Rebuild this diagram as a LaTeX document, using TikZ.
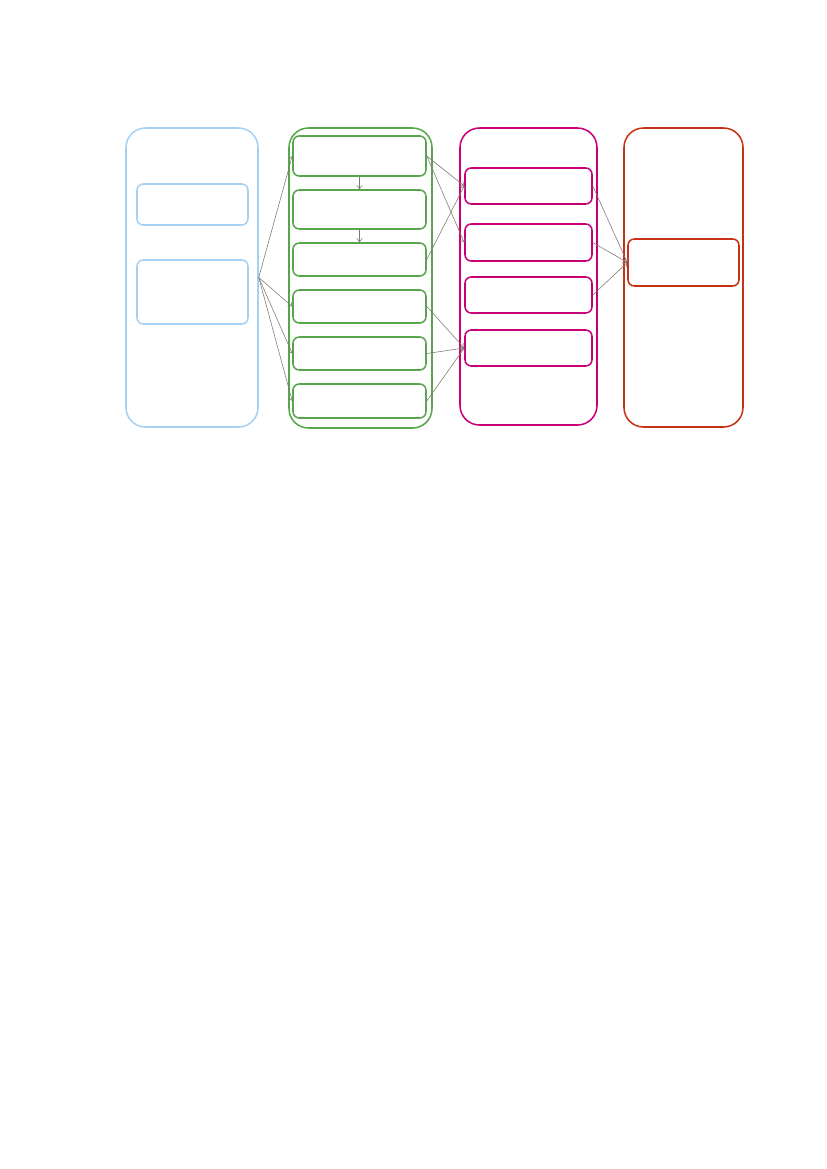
\documentclass[tikz,border=0pt]{standalone}
\usetikzlibrary{arrows.meta}
\definecolor{colBlue}{RGB}{166,208,242}
\definecolor{colGreen}{RGB}{88,166,76}
\definecolor{colMagenta}{RGB}{200,0,120}
\definecolor{colRed}{RGB}{200,50,20}
\definecolor{colArrow}{RGB}{125,120,110}
\tikzset{
	sz/.style 2 args={minimum width=#1*0.7198pt, minimum height=#2*0.7198pt},
	outerbox/.style={draw, rounded corners=14pt, line width=1.1pt, inner sep=0pt},
	innerbox/.style={draw, rounded corners=4.5pt, line width=1.1pt, inner sep=0pt},
	link/.style={draw=colArrow, line width=0.4pt, -{Straight Barb[length=2.5pt,width=4pt]}}}
\tikzset{every picture/.style={line width=0.75pt}}
\begin{document}
\begin{tikzpicture}[x=0.7198pt,y=0.7198pt,yscale=-1,xscale=1]
	\useasboundingbox (0,0) rectangle (827,1169);

	%Shape: Rounded Rect [id:blue column]
	\node [outerbox, draw=colBlue, sz={132}{299}] (blueCol) at (192,277.5) {};
	\node [innerbox, draw=colBlue, sz={111}{41}] (blueA) at (192.5,204.5) {};
	\node [innerbox, draw=colBlue, sz={111}{64}] (blueB) at (192.5,292) {};

	%Shape: Rounded Rect [id:green column]
	\node [outerbox, draw=colGreen, sz={143}{300}] (greenCol) at (360.5,278) {};
	\node [innerbox, draw=colGreen, sz={133}{40}] (greenA) at (359.5,156) {};
	\node [innerbox, draw=colGreen, sz={133}{39}] (greenB) at (359.5,209.5) {};
	\node [innerbox, draw=colGreen, sz={133}{33}] (greenC) at (359.5,259.5) {};
	\node [innerbox, draw=colGreen, sz={133}{33}] (greenD) at (359.5,306.5) {};
	\node [innerbox, draw=colGreen, sz={133}{33}] (greenE) at (359.5,353.5) {};
	\node [innerbox, draw=colGreen, sz={133}{34}] (greenF) at (359.5,401) {};

	%Shape: Rounded Rect [id:magenta column]
	\node [outerbox, draw=colMagenta, sz={137}{297}] (magCol) at (528.5,276.5) {};
	\node [innerbox, draw=colMagenta, sz={127}{36}] (magA) at (528.5,186) {};
	\node [innerbox, draw=colMagenta, sz={127}{37}] (magB) at (528.5,242.5) {};
	\node [innerbox, draw=colMagenta, sz={127}{36}] (magC) at (528.5,295) {};
	\node [innerbox, draw=colMagenta, sz={127}{36}] (magD) at (528.5,348) {};

	%Shape: Rounded Rect [id:red column]
	\node [outerbox, draw=colRed, sz={119}{299}] (redCol) at (683.5,277.5) {};
	\node [innerbox, draw=colRed, sz={111}{47}] (redA) at (683.5,262.5) {};

	%Straight Lines [id:links]
	\foreach \t in {greenA,greenD,greenE,greenF}
		\draw [link] (blueCol.east) -- (\t.west);
	\draw [link] (greenA.south) -- (greenB.north);
	\draw [link] (greenB.south) -- (greenC.north);
	\draw [link] (greenA.east) -- (magA.west);
	\draw [link] (greenA.east) -- (magB.west);
	\draw [link] (greenC.east) -- (magA.west);
	\foreach \s in {greenD,greenE,greenF}
		\draw [link] (\s.east) -- (magD.west);
	\foreach \s in {magA,magB,magC}
		\draw [link] (\s.east) -- (redA.west);

\end{tikzpicture}
\end{document}
